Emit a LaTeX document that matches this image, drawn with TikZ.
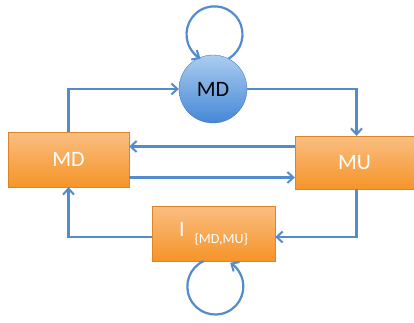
\documentclass[tikz,border=0pt]{standalone}
\usepackage{fontspec}
\setmainfont{Carlito}
\usetikzlibrary{arrows.meta,calc}
\definecolor{lineblue}{RGB}{82,139,206}
\definecolor{orTop}{RGB}{250,190,130}
\definecolor{orBot}{RGB}{246,148,40}
\definecolor{blTop}{RGB}{170,205,240}
\definecolor{blBot}{RGB}{70,135,215}
\begin{document}
\begin{tikzpicture}[x=1pt,y=-1pt,
  obox/.style={rectangle,draw=orBot!90!black,line width=0.3pt,top color=orTop,bottom color=orBot,text=white,font=\fontsize{22}{24}\selectfont,inner sep=0pt},
  bcirc/.style={circle,draw=blBot!80!black,line width=0.3pt,top color=blTop,bottom color=blBot,text=black,font=\fontsize{22}{24}\selectfont,minimum size=68pt,inner sep=0pt},
  conn/.style={draw=lineblue,line width=2.2pt,-{Straight Barb[length=6pt,width=11pt,line width=2pt]}}
]
\useasboundingbox (0,0) rectangle (414,322);
\node[bcirc] (c) at (213,89) {MD};
\node[obox,minimum width=121pt,minimum height=55pt] (md) at (68.5,159.5) {MD};
\node[obox,minimum width=119pt,minimum height=53pt] (mu) at (354.5,162.5) {MU};
\node[obox,minimum width=123pt,minimum height=55pt] (i) at (213.5,233.5) {I\hspace{10pt}\raisebox{-7pt}{\fontsize{14}{15}\selectfont\{MD,MU\}}};
% connectors
\draw[conn] (md.north) -- (md.north |- c.west) -- (c.west);
\draw[conn] (c.east) -| ([xshift=2pt]mu.north);
\draw[conn] ([yshift=16pt]mu.west) -- ([yshift=16pt]mu.west -| md.east);
\draw[conn] ([yshift=-18pt]md.east) -- ([yshift=-18pt]md.east -| mu.west);
\draw[conn] ([xshift=2pt]mu.south) |- ([yshift=-3.5pt]i.east);
\draw[conn] ([yshift=-3.5pt]i.west) -| (md.south);
% self loops
\draw[conn] (c.63) arc[start angle=60,end angle=-240,radius=28];
\draw[conn] ([xshift=-10pt]i.south) arc[start angle=-115,end angle=-418,radius=28];
\end{tikzpicture}
\end{document}
